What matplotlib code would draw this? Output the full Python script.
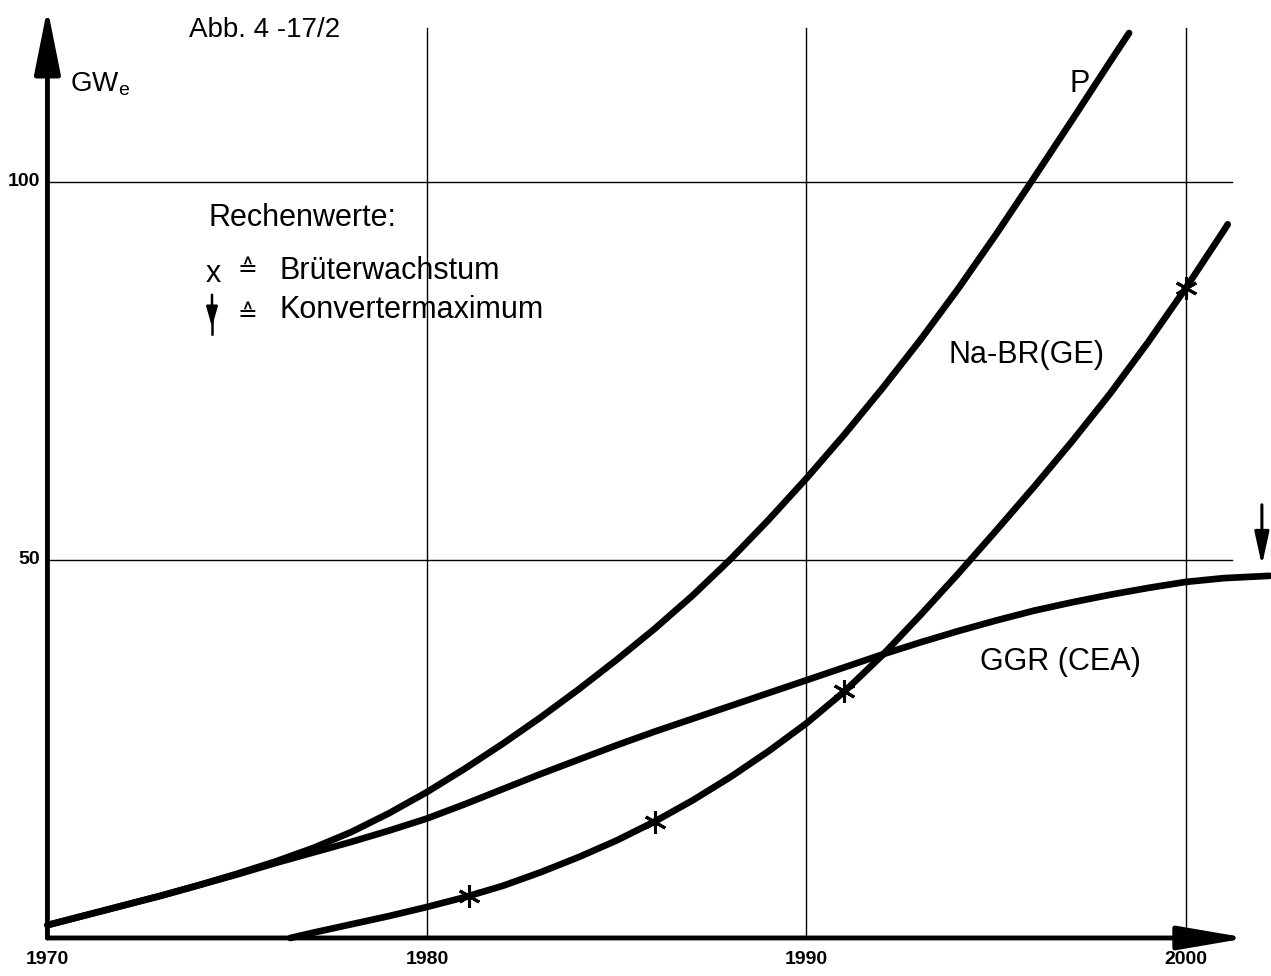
import matplotlib
matplotlib.use("Agg")
import matplotlib.pyplot as plt
from matplotlib.patches import ArrowStyle

# values (GWe per year)
p_years = [1970, 1971, 1972, 1973, 1974, 1975, 1976, 1977, 1978, 1979,
           1980, 1981, 1982, 1983, 1984, 1985, 1986, 1987, 1988, 1989,
           1990, 1991, 1992, 1993, 1994, 1995, 1996, 1997, 1998, 1998.5]
p_vals = [1.7, 3.0, 4.3, 5.6, 7.0, 8.5, 10.1, 11.9, 14.0, 16.5,
          19.3, 22.4, 25.7, 29.2, 32.9, 36.8, 40.9, 45.3, 50.1, 55.3,
          60.8, 66.6, 72.7, 79.1, 85.9, 93.1, 100.6, 108.2, 115.9, 119.7]

ggr_years = [1970, 1971, 1972, 1973, 1974, 1975, 1976, 1977, 1978, 1979,
             1980, 1981, 1982, 1983, 1984, 1985, 1986, 1987, 1988, 1989,
             1990, 1991, 1992, 1993, 1994, 1995, 1996, 1997, 1998, 1999,
             2000, 2001, 2002.2]
ggr_vals = [1.7, 3.0, 4.3, 5.6, 7.0, 8.4, 9.9, 11.3, 12.7, 14.2,
            15.8, 17.7, 19.7, 21.7, 23.6, 25.5, 27.3, 29.0, 30.7, 32.4,
            34.1, 35.8, 37.5, 39.1, 40.6, 42.0, 43.3, 44.4, 45.4, 46.3,
            47.1, 47.6, 47.9]

na_years = [1976.4, 1977, 1978, 1979, 1980, 1981, 1982, 1983, 1984, 1985,
            1986, 1987, 1988, 1989, 1990, 1991, 1992, 1993, 1994, 1995,
            1996, 1997, 1998, 1999, 2000, 2001, 2001.1]
na_vals = [0.0, 0.7, 1.8, 2.9, 4.1, 5.4, 6.9, 8.7, 10.7, 12.9,
           15.4, 18.2, 21.3, 24.7, 28.4, 32.6, 37.4, 42.7, 48.2, 53.9,
           59.7, 65.7, 72.0, 78.8, 86.0, 93.6, 94.4]

# Rechenwerte (Brüterwachstum)
star_years = [1981.1, 1986.0, 1991.0, 2000.0]
star_vals = [5.5, 15.4, 32.7, 86.0]

x_ticks = [1970, 1980, 1990, 2000]
y_ticks = [50, 100]

plt.rcParams['font.family'] = ['Liberation Sans', 'DejaVu Sans']

fig = plt.figure(figsize=(12.71, 9.76), dpi=100)
ax = fig.add_axes([0, 0, 1, 1])
ax.set_xlim(1968.75, 2002.24)
ax.set_ylim(-5.03, 124.07)
ax.axis('off')

# grid
for yr in x_ticks[1:]:
    ax.plot([yr, yr], [0, 120.4], color='k', lw=1.0)
for v in y_ticks:
    ax.plot([1970, 2001.2], [v, v], color='k', lw=1.0)

# axes with arrow heads
ax.annotate('', xy=(1970, 123.0), xytext=(1970, 0),
            arrowprops=dict(arrowstyle=ArrowStyle('-|>', head_length=2.0, head_width=0.4),
                            lw=3.5, color='k', mutation_scale=20,
                            shrinkA=0, shrinkB=0))
ax.annotate('', xy=(2001.62, 0), xytext=(1970, 0),
            arrowprops=dict(arrowstyle=ArrowStyle('-|>', head_length=2.1, head_width=0.36),
                            lw=3.5, color='k', mutation_scale=20,
                            shrinkA=0, shrinkB=0))

# curves
for xs, ys in [(p_years, p_vals), (ggr_years, ggr_vals), (na_years, na_vals)]:
    ax.plot(xs, ys, color='k', lw=4.8, solid_capstyle='round',
            solid_joinstyle='round')
ax.plot(star_years, star_vals, ls='none', marker=(6, 2, 0), ms=16,
        mew=2.2, color='k')

# Konvertermaximum arrow above end of GGR curve
kx, ky = ggr_years[-1] - 0.2, ggr_vals[-1]
ax.annotate('', xy=(kx, ky + 1.4), xytext=(kx, ky + 9.4),
            arrowprops=dict(arrowstyle=ArrowStyle('-|>', head_length=1.0, head_width=0.22),
                            lw=2.2, color='k', mutation_scale=20,
                            shrinkA=0, shrinkB=0))

# tick labels
for yr in x_ticks:
    ax.text(yr, -2.9, str(yr), ha='center', va='center', fontsize=14,
            fontweight='bold')
for v in y_ticks:
    ax.text(1969.8, v, str(v), ha='right', va='center', fontsize=14,
            fontweight='bold')

# texts
ax.text(0.149, 0.969, 'Abb. 4 -17/2', transform=ax.transAxes, fontsize=20,
        ha='left', va='center')
ax.text(0.055, 0.914, r'GW$_\mathregular{e}$', transform=ax.transAxes,
        fontsize=20, ha='left', va='center')
ax.text(0.1637, 0.7766, 'Rechenwerte:', transform=ax.transAxes, fontsize=22,
        ha='left', va='center')
ax.text(0.162, 0.7193, 'x', transform=ax.transAxes, fontsize=22,
        ha='left', va='center')
ax.text(0.187, 0.724, '≙', transform=ax.transAxes, fontsize=17,
        ha='left', va='center', family=['DejaVu Sans'])
ax.text(0.22, 0.7225, 'Brüterwachstum', transform=ax.transAxes, fontsize=22,
        ha='left', va='center')
ax.plot([0.1668, 0.1668], [0.676, 0.658], transform=ax.transAxes,
        color='k', lw=1.8)
ax.annotate('', xy=(0.1668, 0.665), xytext=(0.1668, 0.698), xycoords='axes fraction',
            arrowprops=dict(arrowstyle=ArrowStyle('-|>', head_length=0.6, head_width=0.17),
                            lw=1.8, color='k', mutation_scale=20,
                            shrinkA=0, shrinkB=0))
ax.text(0.187, 0.678, '≙', transform=ax.transAxes, fontsize=17,
        ha='left', va='center', family=['DejaVu Sans'])
ax.text(0.22, 0.6824, 'Konvertermaximum', transform=ax.transAxes, fontsize=22,
        ha='left', va='center')

ax.text(1997.2, 113.0, 'P', fontsize=22, ha='center', va='center')
ax.text(1995.8, 77.1, 'Na-BR(GE)', fontsize=22, ha='center', va='center')
ax.text(1996.7, 36.5, 'GGR (CEA)', fontsize=22, ha='center', va='center')

fig.savefig('out.png', dpi=100)
